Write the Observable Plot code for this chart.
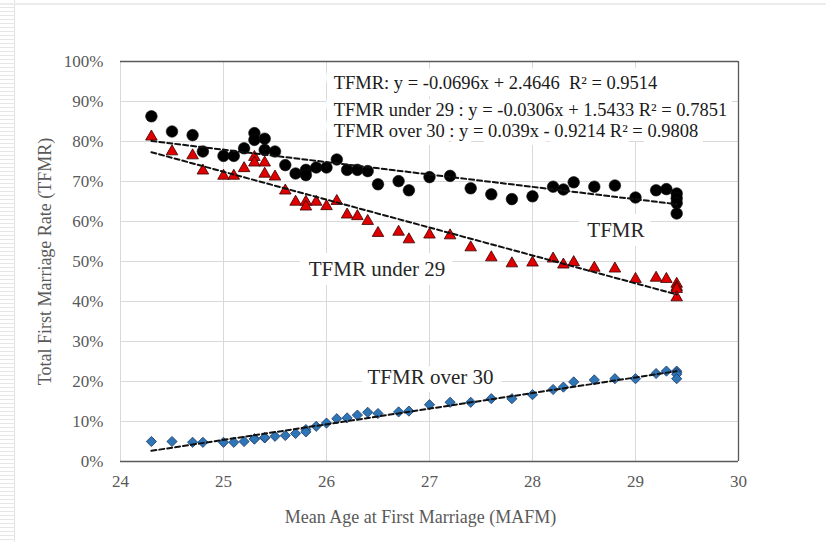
<!DOCTYPE html>
<html><head><meta charset="utf-8">
<script src="https://cdn.jsdelivr.net/npm/d3@7"></script>
<script src="https://cdn.jsdelivr.net/npm/@observablehq/plot@0.6"></script>
<style>
html,body{margin:0;padding:0;background:#fff;}
#wrap{position:relative;width:826px;height:542px;overflow:hidden;}
#strip{position:absolute;left:0;top:0;width:14px;height:542px;background:repeating-linear-gradient(#fff 0 3px,#e6e6e6 3px 4px);border-right:1px solid #e2e2e2;}
#topline{position:absolute;left:0;top:3px;width:826px;height:2px;background:#ececec;}
#chart{position:absolute;left:0;top:0;}
</style></head><body>
<div id="wrap"><div id="strip"></div><div id="topline"></div><div id="chart"></div></div>
<script>
// Mean age at first marriage (x)
const mafm = [24.3,24.5,24.7,24.8,25.0,25.1,25.2,25.3,25.3,25.4,25.4,25.5,25.6,25.7,25.8,25.8,25.9,26.0,26.1,26.2,26.3,26.4,26.5,26.7,26.8,27.0,27.2,27.4,27.6,27.8,28.0,28.2,28.3,28.4,28.6,28.8,29.0,29.2,29.3,29.4,29.4,29.4,29.4];
// TFMR (%)
const tfmr = [86.3,82.5,81.6,77.5,76.4,76.4,78.3,82.1,80.4,80.7,77.9,77.5,74.1,72.0,72.9,71.6,73.5,73.5,75.5,72.9,72.9,72.6,69.3,70.1,67.8,71.1,71.4,68.3,66.8,65.6,66.3,68.7,68.0,69.8,68.7,69.0,66.0,67.8,68.1,67.0,65.8,64.6,62.0];
// TFMR under 29 (%)
const under29 = [81.2,77.5,76.5,72.7,71.4,71.4,73.3,76.1,74.7,74.7,71.9,71.2,67.7,64.9,64.9,63.7,64.9,63.8,65.1,61.7,61.3,60.1,57.1,57.4,55.5,56.7,56.5,53.5,51.0,49.5,49.7,50.7,49.2,49.8,48.4,48.2,45.6,45.9,45.6,44.4,43.6,43.1,41.0];
// TFMR over 30 (%)
const over30 = [5.0,5.0,4.8,4.8,4.8,4.8,5.0,5.7,5.6,5.9,6.0,6.3,6.5,7.0,8.0,7.4,8.8,9.6,10.7,10.9,11.6,12.3,12.0,12.4,12.6,14.2,14.8,14.8,15.7,15.7,16.7,18.0,18.6,19.9,20.4,20.7,20.7,22.0,22.6,22.6,22.2,21.8,20.7];

const xTicks = [24,25,26,27,28,29,30];
const yTicks = [0,10,20,30,40,50,60,70,80,90,100];

const equations = [
  "TFMR: y = -0.0696x + 2.4646\u00A0 R\u00B2 = 0.9514",
  "TFMR under 29 : y = -0.0306x + 1.5433 R\u00B2 = 0.7851",
  "TFMR over 30 : y = 0.039x - 0.9214 R\u00B2 = 0.9808"
];
const eqX = [26.07, 26.07, 26.07];
const eqY = [94.5, 87.9, 82.6];

const seriesLabels = ["TFMR", "TFMR under 29", "TFMR over 30"];
const labelX = [28.81, 26.49, 27.01];
const labelY = [57.8, 48.0, 21.1];

const xTitle = "Mean Age at First Marriage (MAFM)";
const yTitle = "Total First Marriage Rate (TFMR)";

const rows = mafm.map((x, i) => ({x, tfmr: tfmr[i], u29: under29[i], o30: over30[i]}));
const eqRows = equations.map((t, i) => ({t, x: eqX[i], y: eqY[i]}));
const lblRows = seriesLabels.map((t, i) => ({t, x: labelX[i], y: labelY[i]}));

const font = "'Liberation Serif','Times New Roman',serif";
const axisColor = "#595959";

const plot = Plot.plot({
  width: 826, height: 542,
  marginLeft: 120, marginRight: 88, marginTop: 61, marginBottom: 81,
  style: {fontFamily: font, fontSize: "17px", color: axisColor, background: "transparent"},
  x: {domain: [24, 30], label: null},
  y: {domain: [0, 100], label: null},
  marks: [
    Plot.gridX(xTicks, {stroke: "#d9d9d9", strokeOpacity: 1, strokeWidth: 1}),
    Plot.gridY(yTicks, {stroke: "#d9d9d9", strokeOpacity: 1, strokeWidth: 1}),
    // white knockouts behind annotations
    Plot.text(eqRows, {x: "x", y: "y", text: "t", textAnchor: "start", fill: "white", stroke: "white", strokeWidth: 16, fontSize: 18.5}),
    Plot.text(lblRows, {x: "x", y: "y", text: "t", fill: "white", stroke: "white", strokeWidth: 18, fontSize: 21}),
    Plot.ruleY([0, 100], {stroke: axisColor, strokeWidth: 1.3}),
    Plot.ruleX([30], {stroke: axisColor, strokeWidth: 1.3}),
    Plot.axisX(xTicks, {tickSize: 0, tickPadding: 13, fontSize: 17, fill: axisColor}),
    Plot.axisY(yTicks, {tickSize: 0, tickPadding: 17, fontSize: 17, fill: axisColor, tickFormat: d => d + "%"}),
    Plot.text([xTitle], {frameAnchor: "bottom", dy: 61, dx: -9, fontSize: 18, fill: axisColor}),
    Plot.text([yTitle], {frameAnchor: "left", textAnchor: "middle", dx: -75, rotate: -90, fontSize: 18, fill: axisColor}),
    Plot.dot(rows, {x: "x", y: "tfmr", r: 5.8, fill: "black", stroke: "#111", strokeWidth: 0.6}),
    Plot.dot(rows, {x: "x", y: "u29", symbol: "triangle", r: 4.3, fill: "#e00000", stroke: "#3a0000", strokeWidth: 0.8}),
    Plot.dot(rows, {x: "x", y: "o30", symbol: "diamond2", r: 4.6, fill: "#2e75b6", stroke: "#1f3864", strokeWidth: 0.8}),
    Plot.linearRegressionY(rows, {x: "x", y: "tfmr", ci: 0, stroke: "#111", strokeWidth: 2, strokeDasharray: "5,3"}),
    Plot.linearRegressionY(rows, {x: "x", y: "u29", ci: 0, stroke: "#111", strokeWidth: 2, strokeDasharray: "5,3"}),
    Plot.linearRegressionY(rows, {x: "x", y: "o30", ci: 0, stroke: "#111", strokeWidth: 2, strokeDasharray: "5,3"}),
    Plot.text(eqRows, {x: "x", y: "y", text: "t", textAnchor: "start", fill: "#1a1a1a", fontSize: 18.5}),
    Plot.text(lblRows, {x: "x", y: "y", text: "t", fill: "#262626", fontSize: 21})
  ]
});
document.getElementById("chart").appendChild(plot);
</script>
</body></html>
